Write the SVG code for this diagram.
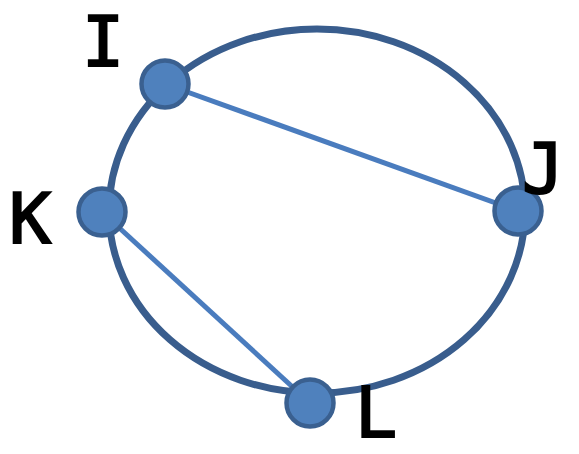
<svg xmlns="http://www.w3.org/2000/svg" width="579" height="454" viewBox="0 0 579 454">
<style>
.lbl{font-family:"DejaVu Sans Mono","Liberation Mono",monospace;font-size:70px;fill:#000;stroke:#000;stroke-width:2;text-anchor:middle}
.node{fill:#4F81BD;stroke:#3A6090;stroke-width:4.5}
.chord{stroke:#4A7CBE;stroke-width:5;fill:none}
</style>
<rect width="579" height="454" fill="#fff"/>
<ellipse cx="317" cy="211" rx="208" ry="182" fill="none" stroke="#395D8D" stroke-width="7"/>
<g id="connectors">
<line class="chord" x1="165" y1="84" x2="518" y2="211"/>
<line class="chord" x1="102" y1="212" x2="310" y2="403"/>
</g>
<g id="I"><circle class="node" cx="165" cy="84" r="23.5"/><text class="lbl" x="103" y="66">I</text></g>
<g id="J"><circle class="node" cx="518" cy="211" r="23.5"/><text class="lbl" x="543" y="193">J</text></g>
<g id="K"><circle class="node" cx="102" cy="212" r="23.5"/><text class="lbl" x="30" y="243">K</text></g>
<g id="L"><circle class="node" cx="310" cy="403" r="23.5"/><text class="lbl" x="376" y="437">L</text></g>
</svg>
